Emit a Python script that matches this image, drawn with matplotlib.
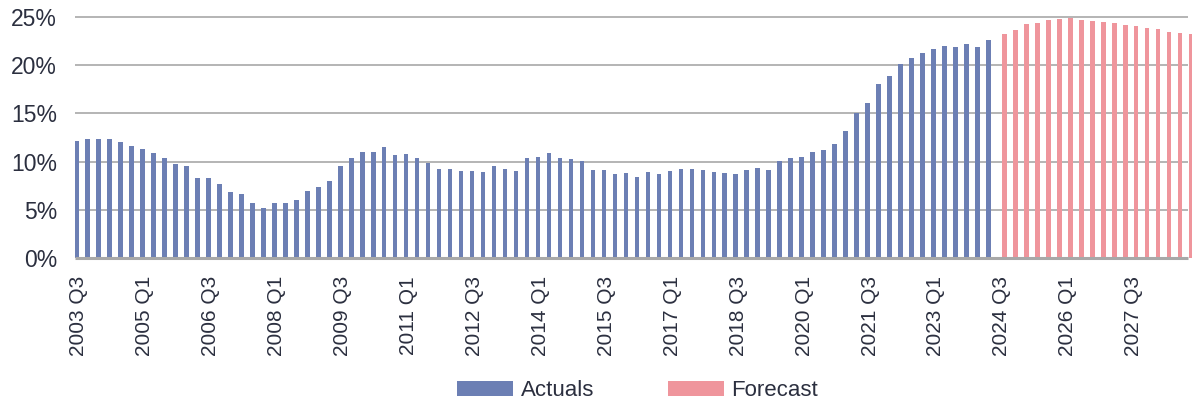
import matplotlib
matplotlib.use("Agg")
import matplotlib.pyplot as plt
import numpy as np

# Quarterly categories, 2003 Q3 through 2028 Q4
quarters = [f"{y} Q{q}" for y in range(2003, 2029) for q in range(1, 5)][2:]

# Share (%) – observed values, 2003 Q3 to 2024 Q2
actuals = [
    12.1, 12.3, 12.3, 12.3, 12.0, 11.6, 11.3, 10.9, 10.4, 9.75,
    9.5, 8.3, 8.3, 7.7, 6.85, 6.6, 5.7, 5.2, 5.7, 5.7,
    6.0, 6.95, 7.4, 8.0, 9.5, 10.4, 11.0, 11.0, 11.5, 10.7,
    10.8, 10.4, 9.85, 9.2, 9.2, 9.0, 9.0, 8.9, 9.5, 9.2,
    9.0, 10.4, 10.5, 10.9, 10.4, 10.3, 10.1, 9.1, 9.1, 8.7,
    8.8, 8.4, 8.9, 8.7, 9.0, 9.2, 9.2, 9.1, 8.9, 8.8,
    8.7, 9.1, 9.3, 9.1, 10.1, 10.4, 10.5, 11.0, 11.2, 11.8,
    13.2, 15.0, 16.1, 18.05, 18.9, 20.1, 20.7, 21.3, 21.7, 22.0,
    21.9, 22.2, 21.9, 22.6,
]

# Share (%) – projected values, 2024 Q3 to 2028 Q4
forecast = [
    23.2, 23.65, 24.3, 24.4, 24.7, 24.8, 24.9, 24.7, 24.6, 24.5,
    24.4, 24.2, 24.1, 23.9, 23.75, 23.4, 23.3, 23.2,
]

y_ticks = [0, 5, 10, 15, 20, 25]
y_ticklabels = ["0%", "5%", "10%", "15%", "20%", "25%"]
label_step = 6

BLUE = "#6c7fb4"
PINK = "#ef959c"
GRID = "#a8a8a8"
TEXT = "#2b2f3f"

plt.rcParams["font.family"] = ["Liberation Sans", "DejaVu Sans"]

fig = plt.figure(figsize=(11.94, 4.05), dpi=100)
ax = fig.add_axes([75 / 1194, 1 - 258 / 405, (1192 - 75) / 1194, (258 - 17) / 405])

n = len(quarters)
x = np.arange(n)
n_act = len(actuals)
width = 0.42
offset = 0.22

act_vals = np.array(actuals + [np.nan] * (n - n_act))
fc_vals = np.array([np.nan] * n_act + forecast)

ax.bar(x - offset, act_vals, width=width, color=BLUE, label="Actuals", zorder=3)
ax.bar(x + offset, fc_vals, width=width, color=PINK, label="Forecast", zorder=3)

ax.set_xlim(-0.36, 101.3)
ax.set_ylim(0, 25)

# horizontal gridlines and base line
grid_end = 100.95
for t in y_ticks[1:]:
    ax.hlines(t, -0.36, grid_end, color=GRID, linewidth=1.2, zorder=1, clip_on=False)
ax.hlines(0, -0.36, grid_end, color=GRID, linewidth=2.2, zorder=4, clip_on=False)

for s in ax.spines.values():
    s.set_visible(False)

ax.set_yticks(y_ticks)
ax.set_yticklabels(y_ticklabels)
ax.tick_params(axis="y", length=0, pad=13, labelsize=16.5, labelcolor=TEXT)

tick_pos = x[::label_step]
ax.set_xticks(tick_pos)
ax.set_xticklabels([quarters[i] for i in tick_pos], rotation=90)
ax.tick_params(axis="x", length=0, pad=13, labelsize=15, labelcolor=TEXT)

leg = fig.legend(
    loc="center", bbox_to_anchor=(0.534, 0.035), ncol=2, frameon=False,
    fontsize=16, handlelength=2.52, handleheight=0.68, handletextpad=0.36,
    columnspacing=3.3, borderpad=0,
)
for t in leg.get_texts():
    t.set_color(TEXT)

fig.savefig("out.png", dpi=100)
